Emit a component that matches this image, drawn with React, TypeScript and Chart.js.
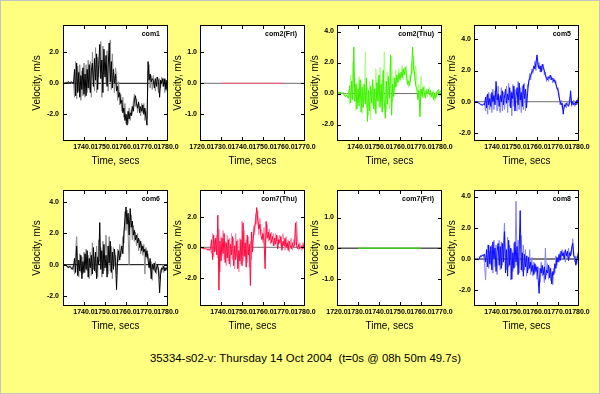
import React, { useEffect, useRef } from 'react';
import { Chart, registerables } from 'chart.js';

Chart.register(...registerables);

const FONT = "'Liberation Sans', Arial, Helvetica, sans-serif";

const mainTitle = '35334-s02-v: Thursday 14 Oct 2004  (t=0s @ 08h 50m 49.7s)';
const xAxisTitle = 'Time, secs';
const yAxisTitle = 'Velocity, m/s';

// sample times (s) shared by the Thursday records
const times = [
  1730.5, 1731, 1731.5, 1732, 1732.5,
  1733, 1733.5, 1734, 1734.5, 1735,
  1735.5, 1736, 1736.5, 1737, 1737.5,
  1738, 1738.5, 1739, 1739.5, 1740,
  1740.5, 1741, 1741.5, 1742, 1742.5,
  1743, 1743.5, 1744, 1744.5, 1745,
  1745.5, 1746, 1746.5, 1747, 1747.5,
  1748, 1748.5, 1749, 1749.5, 1750,
  1750.5, 1751, 1751.5, 1752, 1752.5,
  1753, 1753.5, 1754, 1754.5, 1755,
  1755.5, 1756, 1756.5, 1757, 1757.5,
  1758, 1758.5, 1759, 1759.5, 1760,
  1760.5, 1761, 1761.5, 1762, 1762.5,
  1763, 1763.5, 1764, 1764.5, 1765,
  1765.5, 1766, 1766.5, 1767, 1767.5,
  1768, 1768.5, 1769, 1769.5, 1770,
  1770.5, 1771, 1771.5, 1772, 1772.5,
  1773, 1773.5, 1774, 1774.5, 1775,
  1775.5, 1776, 1776.5, 1777, 1777.5,
  1778, 1778.5, 1779, 1779.5, 1780,
];

// Friday records: flat trace
const friTimes = [1730, 1760];
const com2FriValues = [0, 0];
const com7FriValues = [0, 0];
const zeroValues = [0, 0];

const com1Dark = [
  0, 0, 0.05, 0, 0.1,
  0.05, 0, 0.1, 0.05, 0,
  0.9, -0.8, 1.3, -0.6, 0.7,
  -0.9, 0.5, -0.4, 1.0, -0.7,
  0.6, -0.8, 0.9, -0.3, 1.2,
  -0.6, 0.8, 1.3, -0.2, 1.6,
  0.2, 1.9, -0.4, 1.2, 2.5,
  0.3, 1.5, -0.6, 2.2, 0.4,
  1.8, -0.2, 1.0, 2.6, 0.1,
  1.4, -0.3, 0.9, 0.0, 0.6,
  -0.5, -0.2, -0.9, -0.6, -1.3,
  -1.1, -1.9, -1.6, -2.4, -2.0,
  -2.7, -1.8, -2.3, -1.9, -2.1,
  -1.5, -1.8, -1.1, -0.8, -1.3,
  -1.6, -1.2, -1.9, -1.5, -1.8,
  -1.4, -2.0, -1.6, -2.2, -2.7,
  1.4, 0.2, 0.6, 0.1, 0.3,
  0.2, -0.3, 0.3, -0.2, 0.4,
  0.1, -0.9, 0.2, 0.0, 0.3,
  -0.2, 0.3, -0.4, 0.2, -1.1,
];
const com1Light = [
  0, 0.05, 0, 0.05, 0.1,
  0, 0.1, 0, 0.05, 0.1,
  -0.9, 1.4, -1.0, 1.1, -0.5,
  1.2, -1.1, 0.8, -0.8, 1.3,
  -0.9, 1.2, -0.6, 1.5, -0.4,
  1.4, -0.9, 2.0, 0.3, -0.5,
  2.3, -0.6, 1.7, 0.4, 1.5,
  2.7, -0.9, 2.4, 0.6, 1.3,
  0.0, 2.1, -0.5, 1.2, 2.8,
  -0.4, 1.9, 0.3, -0.6, 1.0,
  0.4, -1.1, 0.1, -1.4, -0.7,
  -1.8, -0.9, -2.2, -1.3, -2.6,
  -2.0, -2.6, -1.6, -2.4, -1.7,
  -2.0, -1.2, -0.7, -1.5, -1.0,
  -1.9, -1.3, -1.6, -2.1, -1.3,
  -1.9, -1.3, -2.4, -1.8, -2.3,
  0.8, 1.2, -0.3, 0.5, -0.4,
  0.5, 0.0, -0.5, 0.4, -0.1,
  -0.6, 0.3, -0.3, 0.4, -0.2,
  0.3, -0.6, 0.2, -0.5, -0.3,
];

const com2ThuDark = [
  0.1, 0.05, 0.1, 0, 0.05,
  0, -0.1, -0.2, -0.1, -0.2,
  -0.3, 0.5, -0.6, 0.8, -0.4,
  3.0, -0.5, 0.6, -1.0, 0.3,
  -0.8, 0.9, -1.2, 0.4, -0.9,
  0.6, -0.7, 1.0, -1.8, 0.2,
  -1.1, 0.5, -0.6, 0.9, -1.0,
  0.3, -1.3, 0.7, -0.5, 1.2,
  -0.9, 0.6, -1.2, 1.5, -0.4,
  -1.6, 0.8, -0.7, 1.1, -0.3,
  2.5, -1.4, 0.6, -0.2, 1.0,
  0.4, 1.2, 0.7, 1.3, 0.9,
  1.4, 1.0, 1.6, 1.2, 1.7,
  1.3, 0.6, 0.8, 0.5, 1.0,
  1.4, 3.0, 1.6, 1.2, 0.5,
  0.3, -0.4, 0.2, -1.5, 0.3,
  -0.2, 0.4, 0.1, -0.3, 0.2,
  0.0, 0.3, -0.1, 0.2, -0.2,
  0.1, -0.4, 0.0, -0.3, 0.1,
  0.2, -0.1, 0.1, 0.2, -0.2,
];
const com2ThuLight = [
  0.1, 0, 0.1, 0.05, 0,
  0.1, 0, -0.2, 0, -0.3,
  0.2, -0.7, 1.2, -0.3, 2.0,
  0.4, 1.0, -1.1, 0.7, -0.6,
  1.1, -0.4, 0.8, -1.3, 0.6,
  -0.5, 2.7, -0.9, 0.4, -1.4,
  0.8, -1.7, 0.3, -0.8, 0.5,
  -1.1, 1.6, -0.4, 0.9, -0.8,
  1.7, -0.5, 0.9, -1.0, 2.7,
  0.3, -1.2, 1.4, 0.0, -1.0,
  1.2, 2.4, -0.5, 1.1, 0.2,
  1.5, 0.5, 1.0, 1.6, 0.8,
  1.1, 1.8, 0.9, 1.4, 1.2,
  1.8, 0.9, 0.4, 1.2, 0.7,
  2.1, 1.3, 2.4, 0.8, 1.8,
  0.7, 0.1, 0.6, -0.9, 1.1,
  0.4, -0.3, 0.5, -0.1, 0.3,
  -0.2, 0.1, 0.4, -0.3, 0.0,
  -0.3, 0.2, -0.5, 0.1, -0.2,
  0.0, 0.3, -0.2, 0.0, -0.3,
];

const com5Dark = [
  0, 0, 0, -0.05, -0.1,
  -0.15, -0.2, -0.2, -0.15, -0.2,
  0.3, -0.4, 0.5, -0.2, 0.2,
  -0.3, 0.6, 0.0, 0.4, -0.2,
  1.3, 0.1, 0.5, -0.3, 0.4,
  0.0, 0.7, -0.2, 0.3, 0.8,
  -0.1, 0.5, 0.1, 0.9, -0.4,
  0.6, 0.2, 1.0, -0.6, 0.3,
  0.9, -0.2, 1.2, 0.1, 0.6,
  -0.3, 1.1, 0.2, 0.8, -0.4,
  0.5, 1.3, 1.5, 1.7, 1.9,
  2.0, 2.3, 2.1, 2.5, 3.0,
  2.4, 2.1, 2.3, 1.9, 2.4,
  2.2, 2.0, 1.7, 1.5, 1.4,
  1.6, 1.5, 1.7, 1.4, 1.5,
  1.3, 1.4, 1.1, 0.9, 0.7,
  0.3, 0.0, -0.2, -0.1, -0.8,
  -0.2, -0.3, -0.1, -0.2, -0.3,
  -0.1, 0.7, -0.2, 0.0, -0.2,
  -0.1, -0.2, 0.1, -0.1, 0.7,
];
const com5Light = [
  0, 0, 0, -0.1, -0.1,
  -0.2, -0.15, -0.25, -0.2, -0.1,
  -0.6, 0.4, -0.8, 0.6, -0.5,
  0.5, -0.7, 0.8, -0.5, 0.7,
  0.4, -0.6, 1.0, -0.4, -0.7,
  0.9, -0.6, 0.6, -0.5, 0.2,
  1.0, -0.7, 1.2, -0.3, 0.7,
  -0.9, 1.1, -0.3, 0.8, -0.5,
  -0.6, 1.3, -0.5, 0.9, -0.7,
  1.0, -0.5, 1.2, -0.6, 0.3,
  1.1, 1.0, 1.8, 1.4, 2.1,
  1.8, 2.1, 2.6, 2.0, 2.7,
  2.2, 2.5, 1.9, 2.3, 2.0,
  2.4, 1.7, 1.9, 1.3, 1.6,
  1.3, 1.7, 1.4, 1.6, 1.2,
  1.5, 1.2, 1.3, 0.8, 0.9,
  0.5, -0.2, 0.1, -0.4, -0.5,
  -0.4, -0.1, -0.4, 0.0, -0.2,
  0.2, 0.4, -0.3, -0.1, 0.1,
  -0.3, 0.0, -0.2, 0.2, 0.4,
];

const com6Dark = [
  0, 0, -0.05, -0.1, -0.2,
  -0.1, -0.15, -0.2, -0.3, -0.1,
  0.4, -0.5, 1.2, -0.7, 0.3,
  -0.4, 0.6, -0.9, 0.2, -0.5,
  0.7, -0.3, 0.9, -0.8, 0.4,
  -0.2, 0.6, -0.6, 1.1, -0.4,
  0.8, -0.9, 0.5, 0.0, 2.7,
  -0.3, 0.9, -0.6, 1.3, -0.2,
  0.6, -0.8, 1.2, 0.1, 1.5,
  -0.5, 0.8, -0.3, 1.0, 0.2,
  -1.6, 0.4, 0.9, 0.3, 0.8,
  1.2, 0.7, 2.0, 2.9, 3.7,
  2.6, 3.3, 1.9, 3.6, 2.4,
  2.8, 1.9, 2.2, 1.6, 1.9,
  1.4, 1.7, 1.1, 1.5, 0.9,
  1.2, 0.8, 1.0, 0.5, 0.9,
  0.3, -0.2, 0.4, -0.9, 0.0,
  -0.3, 0.1, -0.5, -0.2, 0.0,
  -0.4, -1.8, -0.6, -0.2, -0.3,
  -0.1, -0.4, -0.2, -0.3, -0.2,
];
const com6Light = [
  0, -0.05, 0, -0.15, -0.1,
  -0.2, -0.1, -0.3, -0.1, -0.2,
  -0.6, 0.8, 1.8, 0.1, -0.8,
  0.7, -0.5, 0.5, -0.6, 0.8,
  -0.5, 1.0, -0.4, 0.6, -0.9,
  0.8, -0.7, 1.4, -0.3, 0.5,
  -0.5, 1.2, -0.8, 1.6, 0.2,
  1.1, -0.8, 1.5, -0.4, 0.7,
  1.9, 0.3, -0.6, 1.8, -0.4,
  1.2, -0.9, 1.1, -0.1, 0.6,
  -0.6, 1.0, 0.2, 1.3, 0.5,
  0.9, 1.8, 1.4, 3.4, 2.2,
  3.5, 2.0, 0.0, 2.8, 3.2,
  1.6, 2.5, 1.5, 2.1, 1.2,
  2.0, 0.9, 1.6, 0.7, 1.3,
  0.6, 1.3, -0.6, 1.1, 0.4,
  0.7, 0.1, -0.3, 0.2, -1.0,
  0.1, -0.4, 0.2, -0.6, -0.1,
  -0.2, -0.9, -0.3, -0.5, 0.0,
  -0.5, -0.2, -0.4, -0.1, -0.4,
];

const com7ThuDark = [
  0, -0.05, -0.1, -0.1, -0.05,
  -0.1, -0.15, -0.1, -0.2, -0.1,
  0.5, -0.8, 0.8, -0.3, 0.6,
  -0.5, 2.1, -2.8, 0.4, -0.9,
  0.6, -0.4, 0.9, -1.0, 0.3,
  -0.7, 0.5, -1.1, 0.2, -0.5,
  0.7, -1.2, 0.1, -0.8, 0.4,
  -1.4, -0.2, -0.9, 0.5, -1.2,
  1.6, -0.6, 0.3, -1.3, 0.8,
  -0.5, 0.2, -2.5, 1.0, -0.3,
  0.9, 1.3, 1.7, 2.6, 1.8,
  1.2, 1.5, 0.8, 0.5, 0.9,
  0.4, -1.4, 1.7, 0.6, 1.0,
  0.5, 0.9, 0.3, 0.7, 0.1,
  0.6, 0.2, 0.8, -0.1, 0.5,
  0.3, 0.7, -0.2, 0.4, 0.1,
  0.6, 0.0, 0.3, -0.2, 0.4,
  0.1, -0.1, 0.3, 0.0, 0.2,
  1.6, 0.1, -0.1, 0.2, -0.1,
  0.0, 0.1, -0.1, 0.2, 0.4,
];
const com7ThuLight = [
  -0.05, 0, -0.1, -0.05, -0.1,
  -0.15, -0.1, -0.2, -0.1, -0.15,
  -0.4, 0.9, -0.6, 0.5, -0.2,
  0.8, -0.7, 1.2, -1.6, 0.7,
  -0.6, 1.1, -0.8, 0.4, -1.2,
  0.8, -0.9, 0.6, -1.3, 0.9,
  -0.8, 0.6, -1.4, 0.9, -0.6,
  0.5, -1.6, 0.6, -1.1, 1.7,
  -0.9, 1.1, -0.6, 0.5, -1.0,
  0.7, -1.3, 0.4, -0.8, 0.5,
  1.4, 0.8, 2.2, 1.5, 2.4,
  0.8, 1.9, 1.2, 1.0, 0.3,
  1.3, 0.2, 0.9, 1.5, 0.4,
  1.2, 0.2, 1.0, 0.6, 0.9,
  0.1, 0.9, 0.4, 0.7, 0.2,
  0.8, 0.1, 0.6, 0.9, 0.3,
  -0.2, 0.7, 0.1, 0.5, -0.3,
  0.4, 0.6, -0.2, 0.5, 0.1,
  0.3, 1.7, 0.4, -0.2, 0.3,
  0.2, -0.2, 0.3, 0.0, 0.3,
];

const com8Dark = [
  0, -0.05, 0, -0.05, 0,
  0.2, 0.15, 0.25, 0.2, 0.3,
  -0.2, 0.6, -0.5, 0.9, -0.3,
  0.8, -0.7, 1.1, 0.0, 0.7,
  -0.8, 0.5, 1.0, -0.4, 0.8,
  -0.6, 1.0, -0.2, 1.75, -0.9,
  0.6, -1.1, 1.2, -0.4, 0.7,
  -1.3, 0.4, -0.6, 1.1, -0.2,
  0.8, -1.0, 0.5, 3.1, -0.7,
  0.4, -1.1, 0.3, -0.5, 0.2,
  -0.9, 0.1, -0.6, -0.2, -0.8,
  -0.4, -1.0, -0.3, -0.8, -0.5,
  -1.2, -2.2, -0.6, -0.9, -0.4,
  -1.0, -0.5, -1.3, -0.7, -0.9,
  -0.4, -1.2, -0.6, -1.6, -0.8,
  -1.0, -0.3, -0.6, 0.1, -0.2,
  0.3, -0.1, 0.5, 0.2, 0.4,
  0.0, 0.6, 0.2, 0.5, -0.1,
  0.4, 0.2, 0.7, 1.0, 0.2,
  0.1, -0.4, 0.0, 0.2, 0.6,
];
const com8Light = [
  -0.05, 0, -0.05, 0, 0.05,
  0.15, 0.25, 0.2, 0.3, -0.3,
  -1.35, 0.3, 0.9, -0.6, 0.5,
  -0.4, 0.9, -0.9, 1.2, -0.5,
  0.9, -1.0, 0.4, 1.2, -0.7,
  1.1, -0.4, 0.6, 2.3, 0.3,
  -0.7, 1.4, -0.5, 0.9, -1.35,
  0.6, -0.8, 1.0, -0.5, 3.7,
  -0.4, 1.2, -0.9, 0.7, 1.5,
  -0.8, 0.9, -0.7, 0.6, -1.1,
  0.2, -0.7, 0.6, -1.0, 0.1,
  -1.1, -0.2, -0.9, -0.4, -1.3,
  -0.5, -1.0, -1.5, -0.2, -1.1,
  -0.6, -1.5, 0.7, -1.0, -0.3,
  -1.3, -0.5, -1.4, -0.9, -1.65,
  -0.6, -0.9, 0.2, -0.4, 0.1,
  -0.2, 0.4, 0.0, 0.6, 0.1,
  0.5, -0.2, 0.4, 0.1, 0.7,
  0.0, 0.5, 0.3, 1.3, 0.4,
  -0.2, 0.2, -0.3, 0.4, 0.3,
];

// layout of the 2 x 4 grid (page pixels of each plot box)
const colLefts = [63, 200, 337, 474];
const rowTops = [25, 190];
const PLOT_W = 105;
const PLOT_H = 116;
const CANVAS_W = 165;
const CANVAS_H = 155;
const LEFT_SPACE = 40;
const TOP_SPACE = 10;

type PanelDef = {
  name: string; col: number; row: number;
  xMin: number; xMax: number; yMin: number; yMax: number; yStep: number;
  t: number[]; dark: number[]; light?: number[];
  darkColor: string; lightColor?: string; zeroColor: string;
};

const panels: PanelDef[] = [
  { name: 'com1', col: 0, row: 0, xMin: 1730, xMax: 1780, yMin: -3.72, yMax: 3.76, yStep: 2,
    t: times, dark: com1Dark, light: com1Light, darkColor: '#000000', lightColor: '#8c8c8c', zeroColor: '#000000' },
  { name: 'com2(Fri)', col: 1, row: 0, xMin: 1720, xMax: 1770, yMin: -1.86, yMax: 1.88, yStep: 1,
    t: friTimes, dark: com2FriValues, darkColor: '#ff5a7a', zeroColor: '#6e6e6e' },
  { name: 'com2(Thu)', col: 2, row: 0, xMin: 1730, xMax: 1780, yMin: -3.06, yMax: 4.42, yStep: 2,
    t: times, dark: com2ThuDark, light: com2ThuLight, darkColor: '#3cf000', lightColor: '#a6ff7a', zeroColor: '#6e6e6e' },
  { name: 'com5', col: 3, row: 0, xMin: 1730, xMax: 1780, yMin: -2.52, yMax: 4.92, yStep: 2,
    t: times, dark: com5Dark, light: com5Light, darkColor: '#0a0aff', lightColor: '#8484ff', zeroColor: '#6e6e6e' },
  { name: 'com6', col: 0, row: 1, xMin: 1730, xMax: 1780, yMin: -2.65, yMax: 4.79, yStep: 2,
    t: times, dark: com6Dark, light: com6Light, darkColor: '#000000', lightColor: '#8c8c8c', zeroColor: '#000000' },
  { name: 'com7(Thu)', col: 1, row: 1, xMin: 1730, xMax: 1780, yMin: -3.84, yMax: 3.75, yStep: 2,
    t: times, dark: com7ThuDark, light: com7ThuLight, darkColor: '#ff0a40', lightColor: '#ff86a4', zeroColor: '#6e6e6e' },
  { name: 'com7(Fri)', col: 2, row: 1, xMin: 1720, xMax: 1770, yMin: -1.89, yMax: 1.9, yStep: 1,
    t: friTimes, dark: com7FriValues, darkColor: '#33ff00', zeroColor: '#000000' },
  { name: 'com8', col: 3, row: 1, xMin: 1730, xMax: 1780, yMin: -3.01, yMax: 4.42, yStep: 2,
    t: times, dark: com8Dark, light: com8Light, darkColor: '#0a0aff', lightColor: '#8484ff', zeroColor: '#000000' },
];

const framePlugin = {
  id: 'panelFrame',
  beforeDatasetsDraw(chart: any) {
    const { ctx, chartArea: a } = chart;
    ctx.save();
    ctx.fillStyle = '#ffffff';
    ctx.fillRect(a.left, a.top, a.right - a.left, a.bottom - a.top);
    ctx.restore();
  },
  afterDraw(chart: any, _args: any, opts: any) {
    const { ctx, chartArea: a, scales } = chart;
    const xs = scales.x;
    const ys = scales.y;
    ctx.save();
    ctx.strokeStyle = '#000000';
    ctx.lineWidth = 1;
    ctx.beginPath();
    xs.ticks.forEach((tk: any) => {
      if (tk.value <= xs.min || tk.value >= xs.max) return;
      const px = Math.round(xs.getPixelForValue(tk.value)) + 0.5;
      ctx.moveTo(px, a.top); ctx.lineTo(px, a.top + 4);
      ctx.moveTo(px, a.bottom); ctx.lineTo(px, a.bottom - 4);
    });
    ys.ticks.forEach((tk: any) => {
      if (tk.value <= ys.min || tk.value >= ys.max) return;
      const py = Math.round(ys.getPixelForValue(tk.value)) + 0.5;
      ctx.moveTo(a.left, py); ctx.lineTo(a.left + 4, py);
      ctx.moveTo(a.right, py); ctx.lineTo(a.right - 4, py);
    });
    ctx.stroke();
    ctx.strokeRect(a.left + 0.5, a.top + 0.5, a.right - a.left - 1, a.bottom - a.top - 1);
    ctx.fillStyle = '#000000';
    ctx.font = `bold 7px ${FONT}`;
    ctx.textAlign = 'right';
    ctx.textBaseline = 'middle';
    ctx.fillText(opts.label, a.right - 8, a.top + 9.5);
    ctx.restore();
  },
};

function Panel({ p }: { p: PanelDef }) {
  const ref = useRef<HTMLCanvasElement>(null);
  useEffect(() => {
    if (!ref.current) return;
    const datasets: any[] = [];
    datasets.push({
      data: p.t.map((t, i) => ({ x: t, y: p.dark[i] })),
      borderColor: p.darkColor, borderWidth: 1, pointRadius: 0, tension: 0, fill: false,
    });
    if (p.light) {
      datasets.push({
        data: p.t.map((t, i) => ({ x: t, y: p.light![i] })),
        borderColor: p.lightColor, borderWidth: 1, pointRadius: 0, tension: 0, fill: false,
      });
    }
    datasets.push({
      data: [{ x: p.xMin, y: zeroValues[0] }, { x: p.xMax, y: zeroValues[1] }],
      borderColor: p.zeroColor, borderWidth: 1, pointRadius: 0, tension: 0, fill: false,
    });
    const hideFirst = p.xMin === 1730;
    const tickFont = { family: FONT, size: 7, weight: 'bold' as const };
    const titleFont = { family: FONT, size: 10 };
    const chart = new Chart(ref.current, {
      type: 'line',
      data: { datasets },
      options: {
        animation: false,
        responsive: false,
        maintainAspectRatio: false,
        devicePixelRatio: 1,
        events: [],
        layout: { padding: { left: 0, top: TOP_SPACE, right: CANVAS_W - LEFT_SPACE - PLOT_W, bottom: 0 } },
        plugins: {
          legend: { display: false },
          tooltip: { enabled: false },
          panelFrame: { label: p.name },
        } as any,
        scales: {
          x: {
            type: 'linear', position: 'bottom', min: p.xMin, max: p.xMax,
            grid: { display: false, drawTicks: false },
            border: { display: false },
            ticks: {
              stepSize: 10, autoSkip: false, maxRotation: 0, minRotation: 0, padding: 2,
              font: tickFont, color: '#000000',
              callback: (v: any) => (hideFirst && Number(v) === 1730 ? '' : Number(v).toFixed(1)),
            },
            title: { display: true, text: xAxisTitle, font: titleFont, color: '#000000', padding: { top: 0, bottom: 2.5 } },
            afterFit: (s: any) => {
              s.height = CANVAS_H - TOP_SPACE - PLOT_H;
              s.paddingLeft = 0; s.paddingRight = 0; s.paddingTop = 0; s.paddingBottom = 0;
            },
          },
          y: {
            type: 'linear', min: p.yMin, max: p.yMax,
            grid: { display: false, drawTicks: false },
            border: { display: false },
            ticks: {
              stepSize: p.yStep, includeBounds: false, padding: p.col === 0 ? 4 : 3,
              font: tickFont, color: '#000000',
              callback: (v: any) => Number(v).toFixed(1),
            },
            title: { display: true, text: yAxisTitle, font: titleFont, color: '#000000', padding: { top: p.col === 0 ? 8.7 : 12.6, bottom: 0 } },
            afterFit: (s: any) => {
              s.width = LEFT_SPACE;
              s.paddingLeft = 0; s.paddingRight = 0; s.paddingTop = 0; s.paddingBottom = 0;
            },
          },
        },
      } as any,
      plugins: [framePlugin as any],
    });
    return () => chart.destroy();
  }, [p]);
  return (
    <canvas
      ref={ref}
      width={CANVAS_W}
      height={CANVAS_H}
      style={{
        position: 'absolute',
        left: colLefts[p.col] - LEFT_SPACE,
        top: rowTops[p.row] - TOP_SPACE,
        width: CANVAS_W,
        height: CANVAS_H,
      }}
    />
  );
}

export default function App() {
  return (
    <div
      style={{
        position: 'relative', width: 600, height: 394, background: '#ffff80', overflow: 'hidden',
        boxShadow: 'inset 0 0 0 1px #c4c4c4',
      }}
    >
      <style>{'html,body{margin:0;padding:0;}'}</style>
      {panels.map((p) => <Panel key={p.name} p={p} />)}
      <div
        style={{
          position: 'absolute', left: 305.5, top: 350.5, transform: 'translateX(-50%)',
          whiteSpace: 'pre', fontFamily: FONT, fontSize: 11.4, lineHeight: '14px', color: '#000000',
        }}
      >
        {mainTitle}
      </div>
    </div>
  );
}
